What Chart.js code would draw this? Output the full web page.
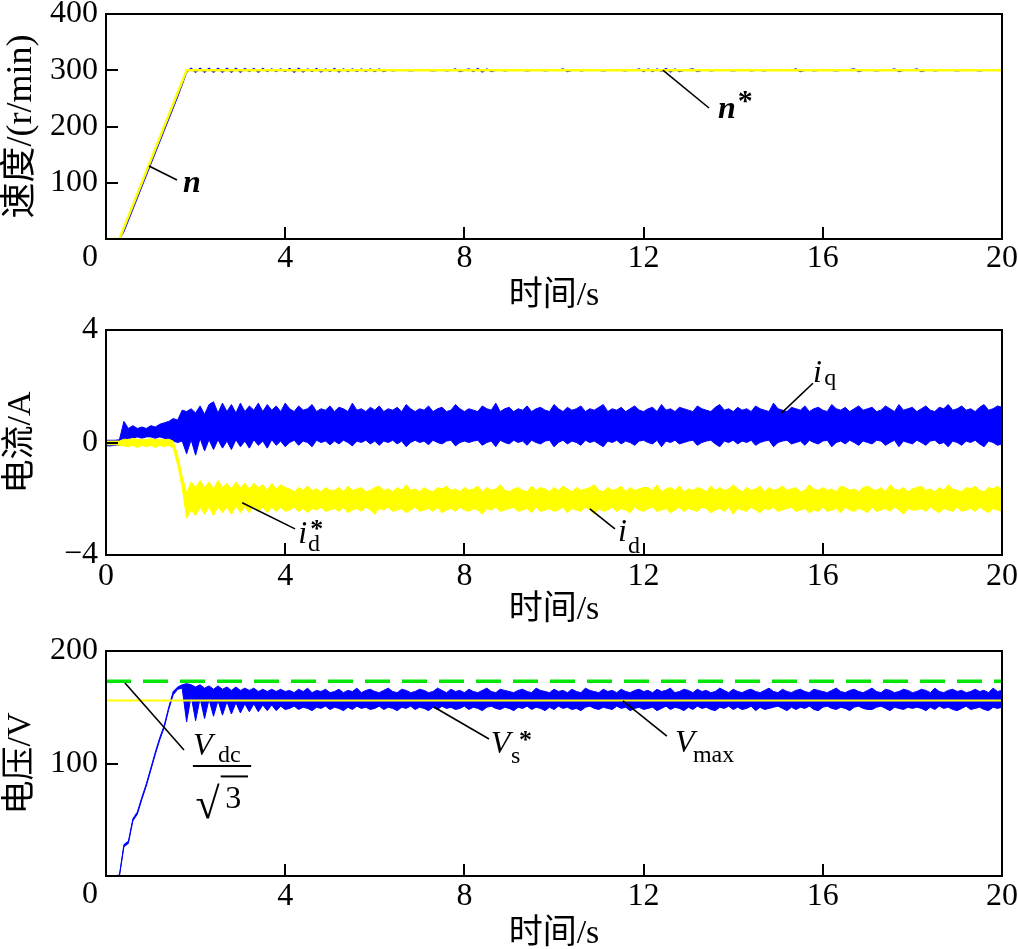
<!DOCTYPE html>
<html><head><meta charset="utf-8">
<script src="https://cdn.jsdelivr.net/npm/chart.js@4.4.1/dist/chart.umd.min.js"></script>
<style>
html,body{margin:0;padding:0;background:#fff;overflow:hidden;width:1018px;height:949px;}
.box{position:absolute;left:0;width:1018px;}
</style></head><body>
<div class="box" style="top:0;height:316px"><canvas id="c1"></canvas></div>
<div class="box" style="top:316px;height:317px"><canvas id="c2"></canvas></div>
<div class="box" style="top:637px;height:314px"><canvas id="c3"></canvas></div>
<script>
// ---------- tick labels ----------
const X_TICKS = [0, 4, 8, 12, 16, 20];
const Y_TICKS_SPEED = [0, 100, 200, 300, 400];
const Y_TICKS_CURRENT = [-4, 0, 4];
const Y_TICKS_VOLT = [0, 100, 200];

// ---------- sample times (s): every 0.1 s from 0 to 20 ----------
const T = []; for (let i = 0; i <= 200; i++) T.push(i / 10);

// ---------- speed (r/min) ----------
const nRefT = [0, 0.3, 1.8, 20];
const nRef = [0, 0, 300, 300];
const nSpeed = [0,0,0,0,14,34,54,74,94,114, 134,154,174,194,214,234,254,275,297,303,
  297,303,297,303,297,303,297,303,297,303, 297,303,298,303,297,303,298,302,298,302, 298,
  303,297,303,297,302,298,303,297,302,298, 303,297,302,298,302,298,302,298,302,298,
  302,298,301,299,300,301,300,299,300,300, 301,300,299,300,301,299,300,302,298,300,
  302,298,303,297,302,298,300,301,299,300, 300,301,300,299,300,300,301,299,300,300,
  300,302,298,300,301,299,300,300,301,300, 299,300,301,300,300,299,301,300,302,298,
  302,298,302,298,303,297,302,298,300,301, 302,298,300,301,299,300,300,301,300,299,
  300,300,301,299,300,300,299,301,300,300, 300,301,300,302,298,300,301,299,300,300,
  301,300,299,300,300,301,302,298,300,301, 300,299,300,301,300,302,298,300,301,300,
  302,298,300,301,299,300,300,301,300,299, 300,300,301,300,299,300,300,301,300,300];

// ---------- currents (A): upper / lower envelope of the ripple band ----------
const iqHi = [0.08,0.08,0.08,0.1,0.75,0.5,0.6,0.5,0.55,0.5, 0.6,0.55,0.65,0.7,0.75,0.85,0.8,1.15,1.1,1.2,
  1.05,1.3,1.0,1.35,1.45,1.05,1.4,1.1,1.35,1.05, 1.4,1.1,1.3,1.15,1.4,1.1,1.35,1.15,1.3,1.1, 1.4,
  1.2,1.1,1.3,1.15,1.2,1.35,1.1,1.2,1.15,1.3, 1.1,1.25,1.2,1.1,1.4,1.15,1.2,1.1,1.25,1.15,
  1.3,1.1,1.2,1.15,1.25,1.1,1.35,1.2,1.1,1.2, 1.15,1.3,1.1,1.2,1.25,1.1,1.15,1.35,1.2,1.1,
  1.2,1.15,1.1,1.3,1.2,1.15,1.4,1.1,1.2,1.25, 1.1,1.2,1.15,1.3,1.1,1.2,1.25,1.15,1.1,1.35,
  1.2,1.1,1.25,1.15,1.2,1.3,1.1,1.2,1.15,1.25, 1.35,1.1,1.2,1.15,1.25,1.1,1.2,1.3,1.15,1.1,
  1.2,1.25,1.1,1.35,1.15,1.2,1.1,1.25,1.2,1.15, 1.1,1.3,1.2,1.15,1.1,1.25,1.35,1.15,1.2,1.1,
  1.25,1.15,1.2,1.1,1.3,1.2,1.15,1.1,1.4,1.2, 1.15,1.1,1.25,1.2,1.15,1.3,1.1,1.2,1.25,1.15,
  1.1,1.35,1.2,1.15,1.25,1.1,1.2,1.3,1.15,1.2, 1.25,1.1,1.15,1.3,1.2,1.1,1.35,1.15,1.2,1.25,
  1.1,1.2,1.3,1.15,1.1,1.25,1.2,1.35,1.15,1.2, 1.3,1.15,1.2,1.1,1.25,1.35,1.15,1.2,1.3,1.25];
const iqLo = [-0.12,-0.12,-0.1,-0.1,0.1,0.15,0.15,0.2,0.15,0.2, 0.2,0.15,0.2,0.15,0.1,0.05,0.0,0.05,-0.4,0.1,
  -0.45,0.15,-0.3,0.1,-0.25,0.1,-0.2,0.05,-0.25,0.1, -0.15,0.05,-0.2,0.1,-0.1,0.05,-0.2,0.1,-0.1,0.05, -0.15,
  0.0,0.08,-0.1,0.05,0.0,-0.15,0.08,0.0,0.05,-0.08, 0.05,-0.05,0.08,0.0,-0.12,0.05,0.0,0.08,-0.05,0.05,
  -0.1,0.05,0.0,0.08,-0.05,0.05,-0.15,0.0,0.08,0.0, 0.05,-0.08,0.08,0.0,-0.05,0.05,0.08,-0.12,0.0,0.05,
  0.0,0.05,0.08,-0.1,0.0,0.05,-0.15,0.08,0.0,-0.05, 0.08,0.0,0.05,-0.1,0.08,0.0,-0.05,0.05,0.08,-0.15,
  0.0,0.08,-0.05,0.05,0.0,-0.1,0.08,0.0,0.05,-0.05, -0.15,0.05,0.0,0.08,-0.05,0.05,0.0,-0.1,0.05,0.08,
  0.0,-0.05,0.08,-0.15,0.05,0.0,0.08,-0.05,0.0,0.05, 0.08,-0.1,0.0,0.05,0.08,-0.05,-0.15,0.05,0.0,0.08,
  -0.05,0.05,0.0,0.08,-0.1,0.0,0.05,0.08,-0.15,0.0, 0.05,0.08,-0.05,0.0,0.05,-0.1,0.08,0.0,-0.05,0.05,
  0.08,-0.15,0.0,0.05,-0.05,0.08,0.0,-0.1,0.05,0.0, -0.05,0.08,0.05,-0.1,0.0,0.08,-0.15,0.05,0.0,-0.05,
  0.08,0.0,-0.1,0.05,0.08,-0.05,0.0,-0.15,0.05,0.0, -0.1,0.05,0.0,0.08,-0.05,-0.15,0.05,0.0,-0.1,-0.05];
const idHi = [0.05,0.05,0.05,0.05,0.12,0.1,0.15,0.1,0.12,0.1, 0.14,0.1,0.12,0.1,0.12,0.05,-0.45,-1.2,-1.8,-1.4,
  -1.6,-1.35,-1.6,-1.4,-1.65,-1.35,-1.6,-1.45,-1.65,-1.4, -1.6,-1.45,-1.65,-1.45,-1.6,-1.5,-1.7,-1.45,-1.65,-1.5, -1.6,
  -1.65,-1.75,-1.6,-1.7,-1.55,-1.7,-1.65,-1.75,-1.6,-1.7, -1.7,-1.6,-1.75,-1.55,-1.7,-1.65,-1.6,-1.75,-1.7,-1.6,
  -1.55,-1.7,-1.65,-1.75,-1.6,-1.7,-1.5,-1.7,-1.65,-1.75, -1.6,-1.7,-1.75,-1.6,-1.65,-1.55,-1.7,-1.65,-1.75,-1.6,
  -1.7,-1.65,-1.55,-1.75,-1.6,-1.7,-1.65,-1.5,-1.7,-1.75, -1.65,-1.6,-1.7,-1.75,-1.55,-1.7,-1.6,-1.65,-1.75,-1.6,
  -1.7,-1.55,-1.65,-1.75,-1.6,-1.7,-1.65,-1.6,-1.5,-1.7, -1.75,-1.6,-1.7,-1.65,-1.55,-1.75,-1.6,-1.7,-1.65,-1.6,
  -1.6,-1.7,-1.5,-1.75,-1.65,-1.6,-1.7,-1.55,-1.75,-1.65, -1.7,-1.6,-1.65,-1.75,-1.55,-1.7,-1.6,-1.7,-1.65,-1.5,
  -1.65,-1.75,-1.6,-1.7,-1.65,-1.55,-1.75,-1.6,-1.7,-1.65, -1.55,-1.7,-1.65,-1.6,-1.75,-1.7,-1.5,-1.65,-1.7,-1.6,
  -1.7,-1.65,-1.75,-1.55,-1.6,-1.7,-1.65,-1.75,-1.6,-1.55, -1.65,-1.7,-1.6,-1.75,-1.5,-1.65,-1.7,-1.6,-1.75,-1.65,
  -1.6,-1.55,-1.7,-1.65,-1.75,-1.6,-1.7,-1.5,-1.65,-1.7, -1.75,-1.6,-1.65,-1.55,-1.7,-1.75,-1.6,-1.65,-1.55,-1.7];
const idLo = [-0.08,-0.08,-0.08,-0.1,-0.12,-0.15,-0.1,-0.18,-0.1,-0.15, -0.1,-0.18,-0.1,-0.15,-0.1,-0.2,-0.8,-1.6,-2.7,-2.4,
  -2.6,-2.3,-2.55,-2.3,-2.6,-2.3,-2.5,-2.3,-2.55,-2.25, -2.5,-2.3,-2.5,-2.25,-2.45,-2.3,-2.5,-2.3,-2.45,-2.3, -2.45,
  -2.4,-2.3,-2.45,-2.35,-2.5,-2.35,-2.4,-2.3,-2.45,-2.4, -2.35,-2.45,-2.3,-2.5,-2.4,-2.35,-2.45,-2.3,-2.4,-2.55,
  -2.35,-2.4,-2.3,-2.45,-2.4,-2.35,-2.5,-2.4,-2.3,-2.45, -2.4,-2.35,-2.45,-2.3,-2.5,-2.4,-2.35,-2.45,-2.3,-2.4,
  -2.45,-2.35,-2.4,-2.55,-2.35,-2.4,-2.3,-2.45,-2.4,-2.35, -2.3,-2.45,-2.4,-2.35,-2.5,-2.3,-2.45,-2.4,-2.35,-2.45,
  -2.4,-2.3,-2.5,-2.35,-2.4,-2.45,-2.3,-2.4,-2.55,-2.35, -2.45,-2.4,-2.3,-2.45,-2.35,-2.4,-2.5,-2.3,-2.4,-2.45,
  -2.35,-2.3,-2.45,-2.4,-2.35,-2.5,-2.4,-2.3,-2.45,-2.35, -2.4,-2.45,-2.3,-2.35,-2.5,-2.4,-2.35,-2.45,-2.3,-2.55,
  -2.35,-2.4,-2.45,-2.3,-2.4,-2.5,-2.35,-2.4,-2.3,-2.45, -2.4,-2.35,-2.3,-2.45,-2.4,-2.35,-2.5,-2.4,-2.45,-2.3,
  -2.45,-2.4,-2.35,-2.5,-2.3,-2.4,-2.45,-2.35,-2.4,-2.5, -2.3,-2.45,-2.4,-2.35,-2.45,-2.3,-2.4,-2.55,-2.35,-2.4,
  -2.4,-2.35,-2.45,-2.3,-2.4,-2.5,-2.35,-2.4,-2.45,-2.3, -2.45,-2.4,-2.35,-2.45,-2.3,-2.4,-2.5,-2.35,-2.4,-2.45];

// ---------- voltages (V) ----------
const vLimT = [0, 20];
const vdcLimit = [173.2, 173.2];   // Vdc / sqrt(3)
const vMax = [155.9, 155.9];
const vsHi = [0,0,0,1,28,31,51,57,70,82, 96,110,123,134,150,164,168,170,171,170,
  168,170,167,169,166,169,166,168,165,168, 165,167,165,167,164,166,164,166,164,166, 164,
  165,163,166,164,167,163,165,164,166,163, 164,166,163,165,164,167,163,165,166,164,
  163,165,167,164,163,166,165,163,164,166, 165,163,164,167,165,163,166,164,165,163,
  166,164,163,165,167,164,163,166,165,164, 163,165,166,164,163,167,165,164,163,166,
  164,165,163,166,164,163,167,165,164,163, 166,164,165,163,166,164,163,165,166,164,
  165,163,166,164,165,167,163,164,166,165, 163,166,164,165,163,164,167,165,163,166,
  164,163,165,166,164,163,165,167,164,163, 166,164,163,165,166,164,163,166,165,164,
  163,165,167,164,163,165,166,164,163,165, 167,164,163,166,165,163,164,166,165,163,
  164,166,165,163,167,164,163,165,166,164, 165,163,164,166,164,165,163,167,164,165];
const vsLo = [0,0,0,0,26,29,49,55,68,80, 94,108,121,132,148,161,166,167,137,160,
  138,158,140,157,142,156,143,155,144,154, 145,153,146,153,146,152,147,152,147,151, 148,
  149,151,148,150,149,147,150,149,151,148, 150,149,147,150,148,151,149,150,148,149,
  151,148,150,149,147,150,149,151,148,150, 149,147,150,148,151,149,150,148,149,151,
  148,150,149,147,150,151,149,148,150,149, 147,150,149,151,148,150,149,147,150,148,
  151,149,150,148,149,147,150,151,149,148, 150,149,148,151,149,150,147,149,150,148,
  149,150,147,149,151,148,150,149,147,150, 148,151,149,150,148,147,150,149,151,148,
  150,148,149,151,147,150,148,149,150,151, 149,147,150,148,150,149,151,148,147,150,
  151,149,148,150,149,147,150,151,149,148, 148,150,151,149,147,150,149,148,150,149,
  150,149,147,150,148,151,149,150,148,147, 149,151,148,149,150,148,147,150,149,150];

// ---------- styling ----------
const SERIF = "'Liberation Serif', 'Times New Roman', 'Noto Sans CJK SC', serif";
const BLUE = '#0000ff', YELLOW = '#ffff00', GREEN = '#00e600';
const xy = (xs, ys) => xs.map((x, i) => ({ x: x, y: ys[i] }));
const F = (style, size) => style + ' ' + size + 'px ' + SERIF;

const framePlugin = {
  id: 'frame',
  afterDraw(chart, args, opts) {
    const ctx = chart.ctx, a = chart.chartArea;
    const xs = chart.scales.x, ys = chart.scales.y;
    ctx.save();
    ctx.strokeStyle = '#000';
    ctx.lineWidth = 2;
    ctx.beginPath();
    xs.ticks.forEach(t => {
      if (t.value > xs.min && t.value < xs.max) {
        const p = Math.round(xs.getPixelForValue(t.value));
        ctx.moveTo(p, a.bottom); ctx.lineTo(p, a.bottom - 12);
      }
    });
    ys.ticks.forEach(t => {
      if (t.value > ys.min && t.value < ys.max) {
        const p = Math.round(ys.getPixelForValue(t.value));
        ctx.moveTo(a.left, p); ctx.lineTo(a.left + 12, p);
      }
    });
    ctx.stroke();
    ctx.strokeRect(a.left, a.top, a.right - a.left, a.bottom - a.top);
    ctx.fillStyle = '#000';
    if (opts.zeroLabel) {
      ctx.font = F('', 32);
      ctx.textAlign = 'right'; ctx.textBaseline = 'middle';
      ctx.fillText('0', a.left - 8, a.bottom + 19);
    }
    (opts.notes || []).forEach(n => {
      if (n.line) {
        ctx.lineWidth = n.w || 1.6;
        ctx.beginPath();
        ctx.moveTo(xs.getPixelForValue(n.line[0]), ys.getPixelForValue(n.line[1]));
        ctx.lineTo(xs.getPixelForValue(n.line[2]), ys.getPixelForValue(n.line[3]));
        ctx.stroke();
      } else {
        ctx.font = n.font;
        ctx.textAlign = 'left'; ctx.textBaseline = 'alphabetic';
        ctx.fillText(n.text, xs.getPixelForValue(n.t), ys.getPixelForValue(n.v));
      }
    });
    ctx.restore();
  }
};

function makeChart(id, c) {
  return new Chart(document.getElementById(id), {
    type: 'line',
    data: { datasets: c.datasets },
    plugins: [framePlugin],
    options: {
      responsive: true, maintainAspectRatio: false, animation: false,
      layout: { padding: { top: 14, right: 16, left: 0, bottom: 0 } },
      elements: { point: { radius: 0 }, line: { tension: 0 } },
      plugins: { legend: { display: false }, tooltip: { enabled: false },
        frame: { zeroLabel: c.hideZero, notes: c.notes } },
      scales: {
        x: {
          type: 'linear', min: 0, max: 20,
          afterBuildTicks: s => { s.ticks = X_TICKS.map(v => ({ value: v })); },
          afterFit: s => { s.height = c.xHeight; s.paddingLeft = 0; s.paddingRight = 0; },
          grid: { display: false, drawTicks: false },
          border: { display: false },
          ticks: { color: '#000', padding: c.xTickPad, maxRotation: 0, autoSkip: false,
            font: { family: SERIF, size: 32, lineHeight: 1.2 },
            callback: v => (c.hideZero && v === 0) ? '' : String(v) },
          title: { display: true, text: '时间/s', color: '#000',
            font: { family: SERIF, size: 34, lineHeight: 1 }, padding: { top: 0, bottom: c.xTitlePad } }
        },
        y: {
          type: 'linear', min: c.yMin, max: c.yMax,
          afterBuildTicks: s => { s.ticks = c.yTicks.map(v => ({ value: v })); },
          afterFit: s => { s.width = 106; s.paddingTop = 0; s.paddingBottom = 0; },
          grid: { display: false, drawTicks: false },
          border: { display: false },
          ticks: { color: '#000', padding: 8, autoSkip: false,
            font: { family: SERIF, size: 32, lineHeight: 1 },
            callback: v => (c.hideZero && v === 0) ? '' : String(v).replace('-', '\u2212') },
          title: { display: true, text: c.yTitle, color: '#000',
            font: { family: SERIF, size: c.yTitleSize, lineHeight: 1 }, padding: { top: 4, bottom: 0 } }
        }
      }
    }
  });
}

// ---------- chart 1: speed ----------
makeChart('c1', {
  yMin: 0, yMax: 400, yTicks: Y_TICKS_SPEED, yTitle: '速度/(r/min)', yTitleSize: 36,
  hideZero: true, xHeight: 77, xTickPad: 0, xTitlePad: 3,
  datasets: [
    { data: xy(nRefT, nRef), borderColor: YELLOW, borderWidth: 2.5, fill: false },
    { data: xy(T, nSpeed), borderColor: BLUE, borderWidth: 1.5, fill: false }
  ],
  notes: [
    { line: [0.96, 129.8, 1.585, 104.9] },
    { text: 'n', t: 1.72, v: 83.6, font: F('italic bold', 32) },
    { line: [12.43, 300.4, 13.46, 232.9] },
    { text: 'n', t: 13.66, v: 215, font: F('italic bold', 32) },
    { text: '*', t: 14.1, v: 229, font: F('bold', 30) }
  ]
});

// ---------- chart 2: currents ----------
makeChart('c2', {
  yMin: -4, yMax: 4, yTicks: Y_TICKS_CURRENT, yTitle: '电流/A', yTitleSize: 34,
  hideZero: false, xHeight: 78, xTickPad: 2, xTitlePad: 6,
  datasets: [
    { data: xy(T, idHi), borderColor: YELLOW, borderWidth: 1, fill: false },
    { data: xy(T, idLo), borderColor: YELLOW, borderWidth: 1, backgroundColor: YELLOW, fill: '-1' },
    { data: xy(T, iqHi), borderColor: BLUE, borderWidth: 1, fill: false },
    { data: xy(T, iqLo), borderColor: BLUE, borderWidth: 1, backgroundColor: BLUE, fill: '-1' }
  ],
  notes: [
    { line: [15.07, 1.036, 15.78, 2.107] },
    { text: 'i', t: 15.78, v: 2.14, font: F('italic', 32) },
    { text: 'q', t: 16.03, v: 2.04, font: F('', 24) },
    { line: [10.8, -2.357, 11.36, -3.07] },
    { text: 'i', t: 11.43, v: -3.5, font: F('italic', 32) },
    { text: 'd', t: 11.65, v: -3.93, font: F('', 24) },
    { line: [3.04, -2.14, 4.22, -3.07] },
    { text: 'i', t: 4.29, v: -3.57, font: F('italic', 32) },
    { text: 'd', t: 4.51, v: -3.86, font: F('', 24) },
    { text: '*', t: 4.56, v: -3.36, font: F('bold', 26) }
  ]
});

// ---------- chart 3: voltages ----------
makeChart('c3', {
  yMin: 0, yMax: 200, yTicks: Y_TICKS_VOLT, yTitle: '电压/V', yTitleSize: 34,
  hideZero: true, xHeight: 75, xTickPad: 1, xTitlePad: 0,
  datasets: [
    { data: xy(vLimT, vdcLimit), borderColor: GREEN, borderWidth: 3.5, borderDash: [25, 12], fill: false },
    { data: xy(vLimT, vMax), borderColor: YELLOW, borderWidth: 2, fill: false },
    { data: xy(T, vsHi), borderColor: BLUE, borderWidth: 1, fill: false },
    { data: xy(T, vsLo), borderColor: BLUE, borderWidth: 1, backgroundColor: BLUE, fill: '-1' }
  ],
  notes: [
    { line: [0.424, 171.6, 1.741, 112] },
    { text: 'V', t: 1.942, v: 108, font: F('italic', 32) },
    { text: 'dc', t: 2.5, v: 101.3, font: F('', 24) },
    { line: [1.94, 97.8, 3.24, 97.8], w: 2 },
    { text: '\u221a', t: 2.0, v: 52, font: F('', 44) },
    { line: [2.56, 88.5, 3.17, 88.5], w: 2 },
    { text: '3', t: 2.66, v: 60.4, font: F('', 32) },
    { line: [7.32, 150.2, 8.55, 121.8] },
    { text: 'V', t: 8.59, v: 109.3, font: F('italic', 32) },
    { text: 's', t: 9.04, v: 100.4, font: F('', 24) },
    { text: '*', t: 9.22, v: 113.8, font: F('bold', 26) },
    { line: [11.54, 155.6, 12.52, 124.4] },
    { text: 'V', t: 12.7, v: 110.2, font: F('italic', 32) },
    { text: 'max', t: 13.1, v: 101.3, font: F('', 24) }
  ]
});
</script>
</body></html>
